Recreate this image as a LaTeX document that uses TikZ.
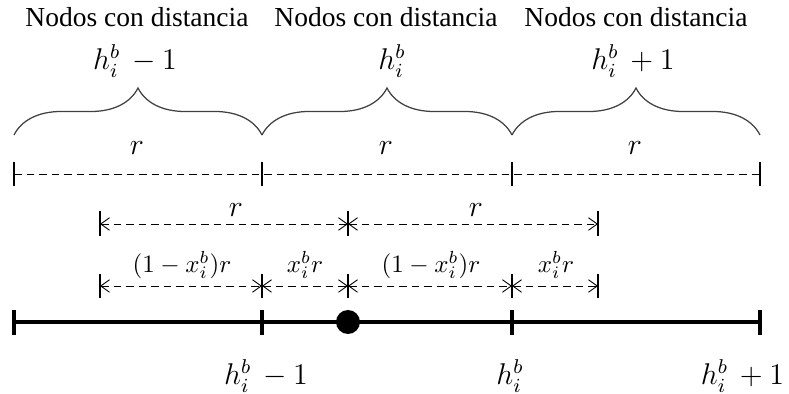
\documentclass[tikz,border=0pt]{standalone}
\usepackage{amsmath}
\usepackage{fontspec}
\setmainfont{Liberation Serif}
\usetikzlibrary{arrows.meta,positioning,calc,decorations.pathreplacing}

\begin{document}
\begin{tikzpicture}[x=0.4pt,y=0.4pt,
    titulo/.style={font=\fontsize{11}{13}\selectfont,inner sep=1pt},
    etiq/.style={font=\large,inner sep=1pt},
    cota/.style={densely dashed,line width=0.35pt,{Straight Barb[length=3.5pt,width=5pt]}-{Straight Barb[length=3.5pt,width=5pt]}},
    marca/.style={line width=0.45pt},
    llave/.style={decorate,decoration={brace,amplitude=18.8pt},line width=0.5pt,draw=black!75},
    eje/.style={line width=1.3pt}]
  \useasboundingbox (0,0) rectangle (789,394);
  % puntos de los tres tramos
  \foreach \n/\x in {a/14,b/262,c/512,d/760}{
    \coordinate (e\n) at (\x,72);
    \coordinate (t\n) at (\x,220);
    \coordinate (l\n) at (\x,259);
  }
  % eje grueso
  \draw[eje] (ea) -- (ed);
  \draw[eje] ($(ea)+(0,12)$) -- ($(ea)+(0,-13)$);
  \draw[eje] ($(ed)+(0,12)$) -- ($(ed)+(0,-13)$);
  \draw[line width=1.8pt] ($(eb)+(0,12)$) -- ($(eb)+(0,-13)$);
  \draw[line width=1.8pt] ($(ec)+(0,12)$) -- ($(ec)+(0,-13)$);
  \node[circle,fill,minimum size=9.6pt,inner sep=0pt] (pto) at (348,72) {};
  \node[etiq] (hm) at (266,18) {$h_i^b\,-1$};
  \node[etiq] (h0) at (510,18) {$h_i^b$};
  \node[etiq,anchor=east] (hp) at (787,18) {$h_i^b\,+1$};
  % tramos de largo r
  \draw[densely dashed,line width=0.35pt] (ta) -- (td);
  \foreach \n in {a,b,c,d}
    \draw[marca] ($(t\n)+(0,12)$) -- ($(t\n)+(0,-12)$);
  \node[etiq] (ra) at (137,246) {$r$};
  \node[etiq] (rb) at (386,246) {$r$};
  \node[etiq] (rc) at (635,246) {$r$};
  % llaves con los titulos
  \draw[llave] (la) -- (lb);
  \draw[llave] (lb) -- (lc);
  \draw[llave] (lc) -- (ld);
  \node[etiq] (sa) at (135,333) {$h_i^b\,-1$};
  \node[etiq] (sb) at (392,333) {$h_i^b$};
  \node[etiq] (sc) at (633,333) {$h_i^b\,+1$};
  \node[titulo] (na) at (137,377) {Nodos con distancia};
  \node[titulo] (nb) at (386,377) {Nodos con distancia};
  \node[titulo] (nc) at (636,377) {Nodos con distancia};
  % cotas alrededor del punto
  \coordinate (u1) at (100,170);
  \coordinate (u2) at (348,170);
  \coordinate (u3) at (598,170);
  \foreach \p in {u1,u2,u3}
    \draw[marca] ($(\p)+(0,13)$) -- ($(\p)+(0,-12)$);
  \draw[cota] (u1) -- (u2);
  \draw[cota] (u2) -- (u3);
  \node[etiq] (r1) at (236,184) {$r$};
  \node[etiq] (r2) at (476,184) {$r$};
  \coordinate (v1) at (100,108);
  \coordinate (v2) at (262,108);
  \coordinate (v3) at (348,108);
  \coordinate (v4) at (512,108);
  \coordinate (v5) at (598,108);
  \foreach \p in {v1,v2,v3,v4,v5}
    \draw[marca] ($(\p)+(0,12)$) -- ($(\p)+(0,-12)$);
  \draw[cota] (v1) -- (v2);
  \draw[cota] (v2) -- (v3);
  \draw[cota] (v3) -- (v4);
  \draw[cota] (v4) -- (v5);
  \node (d1) at (182,129) {$(1-x_i^b)r$};
  \node (d2) at (305,129) {$x_i^b r$};
  \node (d3) at (431,129) {$(1-x_i^b)r$};
  \node (d4) at (556,129) {$x_i^b r$};
\end{tikzpicture}
\end{document}
